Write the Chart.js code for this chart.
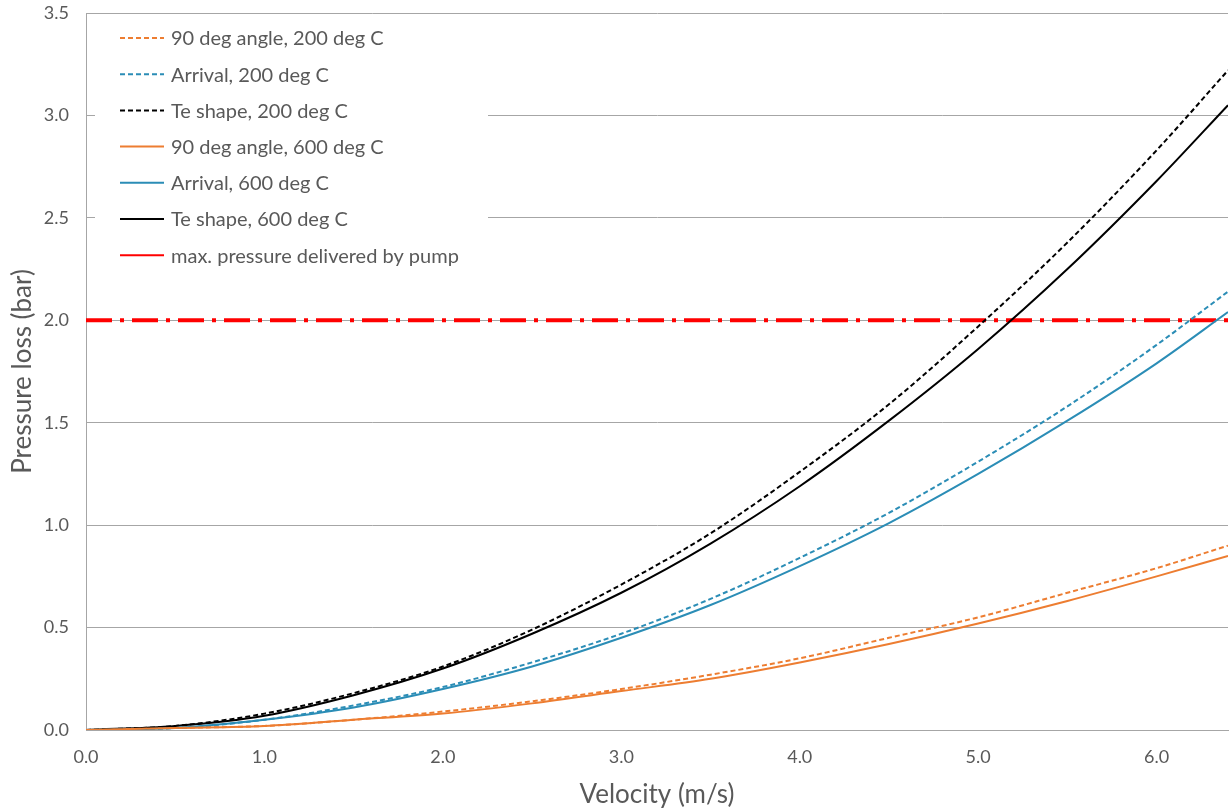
<!DOCTYPE html>
<html>
<head>
<meta charset="utf-8">
<title>Pressure loss vs velocity</title>
<script src="https://cdn.jsdelivr.net/npm/chart.js@4/dist/chart.umd.min.js"></script>
<style>
  body { margin: 0; background: #fff; }
  canvas { display: block; }
</style>
</head>
<body>
<canvas id="myChart" width="1231" height="810"></canvas>
<script>
'use strict';

// values
let velocity = [0, 0.5, 1.0, 1.5, 2.0, 2.5, 3.0, 3.5, 4.0, 4.5, 5.0, 5.5, 6.0, 6.4];
let angle200 = [0, 0.01, 0.02, 0.05, 0.09, 0.14, 0.20, 0.27, 0.35, 0.45, 0.55, 0.67, 0.79, 0.90];
let arrival200 = [0, 0.01, 0.05, 0.12, 0.21, 0.33, 0.47, 0.64, 0.84, 1.06, 1.31, 1.58, 1.88, 2.14];
let teShape200 = [0, 0.02, 0.08, 0.18, 0.31, 0.49, 0.71, 0.96, 1.26, 1.59, 1.97, 2.38, 2.83, 3.22];
let angle600 = [0, 0.01, 0.02, 0.05, 0.08, 0.13, 0.19, 0.25, 0.33, 0.42, 0.52, 0.63, 0.75, 0.85];
let arrival600 = [0, 0.01, 0.05, 0.11, 0.20, 0.31, 0.45, 0.61, 0.80, 1.01, 1.25, 1.51, 1.79, 2.04];
let teShape600 = [0, 0.02, 0.07, 0.17, 0.30, 0.47, 0.67, 0.91, 1.19, 1.51, 1.86, 2.25, 2.68, 3.05];
let pumpVelocity = [0, 6.4];
let pumpPressure = [2.0, 2.0];

let orange = '#ED7D31';
let blue = '#2B8DB6';
let textGrey = '#595959';

function pts(ys, xs = velocity){
    return ys.map((y, i) => ({x: xs[i], y: y}));
}

function curve(label, ys, color, dashed){
    return {
        label: label,
        data: pts(ys),
        borderColor: color,
        backgroundColor: color,
        borderWidth: 2,
        borderDash: dashed ? [5, 3] : [],
        pointRadius: 0,
        cubicInterpolationMode: 'monotone',
        showLine: true
    };
}

let datasets = [
    curve('90 deg angle, 200 deg C', angle200, orange, true),
    curve('Arrival, 200 deg C', arrival200, blue, true),
    curve('Te shape, 200 deg C', teShape200, '#000000', true),
    curve('90 deg angle, 600 deg C', angle600, orange, false),
    curve('Arrival, 600 deg C', arrival600, blue, false),
    curve('Te shape, 600 deg C', teShape600, '#000000', false),
    {
        label: 'max. pressure delivered by pump',
        data: pts(pumpPressure, pumpVelocity),
        borderColor: '#FF0000',
        backgroundColor: '#FF0000',
        borderWidth: 4,
        borderDash: [26, 8, 4, 8],
        pointRadius: 0,
        showLine: true
    }
];

// legend drawn inside the plot, top left, on a white box
let insideLegend = {
    id: 'insideLegend',
    afterDraw(chart){
        let ctx = chart.ctx;
        ctx.save();
        ctx.fillStyle = '#ffffff';
        ctx.fillRect(95, 20, 393, 254);
        ctx.font = '20px Lato';
        ctx.textBaseline = 'middle';
        chart.data.datasets.forEach((ds, i) => {
            let y = 38 + i * 36.2;
            ctx.beginPath();
            ctx.strokeStyle = ds.borderColor;
            ctx.lineWidth = 2;
            ctx.setLineDash(ds.borderDash.length === 2 ? [5, 3] : []);
            ctx.moveTo(120, y);
            ctx.lineTo(164, y);
            ctx.stroke();
            ctx.fillStyle = textGrey;
            ctx.fillText(ds.label, 171, y + 1);
        });
        ctx.restore();
    }
};

Chart.defaults.font.family = 'Lato';
Chart.defaults.color = textGrey;

let ctx = document.getElementById('myChart').getContext('2d');
let myChart = new Chart(ctx, {
    type: 'scatter',
    data: { datasets: datasets },
    plugins: [insideLegend],
    options: {
        responsive: false,
        animation: false,
        layout: { padding: { top: 13, right: 3, left: 0, bottom: 0 } },
        plugins: {
            legend: { display: false },
            tooltip: { enabled: false }
        },
        scales: {
            x: {
                type: 'linear',
                min: 0,
                max: 6.4,
                afterBuildTicks(scale){
                    scale.ticks = scale.ticks.filter(t => Math.abs(t.value - Math.round(t.value)) < 1e-6);
                },
                afterFit(scale){
                    scale.height = 80;
                    scale.paddingRight = 0;
                },
                ticks: {
                    stepSize: 1,
                    padding: 16,
                    font: { size: 18 },
                    color: textGrey,
                    callback: v => v.toFixed(1)
                },
                grid: { drawOnChartArea: false, drawTicks: false },
                border: { color: '#A6A6A6', width: 1 },
                title: {
                    display: true,
                    text: 'Velocity (m/s)',
                    font: { size: 26 },
                    color: textGrey,
                    padding: { top: 7, bottom: 0 }
                }
            },
            y: {
                min: 0,
                max: 3.5,
                afterFit(scale){
                    scale.width = 86;
                    scale.paddingTop = 0;
                    scale.paddingBottom = 0;
                },
                ticks: {
                    stepSize: 0.5,
                    padding: 17,
                    font: { size: 18 },
                    color: textGrey,
                    callback: v => v.toFixed(1)
                },
                grid: { color: '#A6A6A6', lineWidth: 1, drawTicks: false },
                border: { color: '#A6A6A6', width: 1 },
                title: {
                    display: true,
                    text: 'Pressure loss (bar)',
                    font: { size: 26 },
                    color: textGrey,
                    padding: { top: 7, bottom: 0 }
                }
            }
        }
    }
});
</script>
</body>
</html>
